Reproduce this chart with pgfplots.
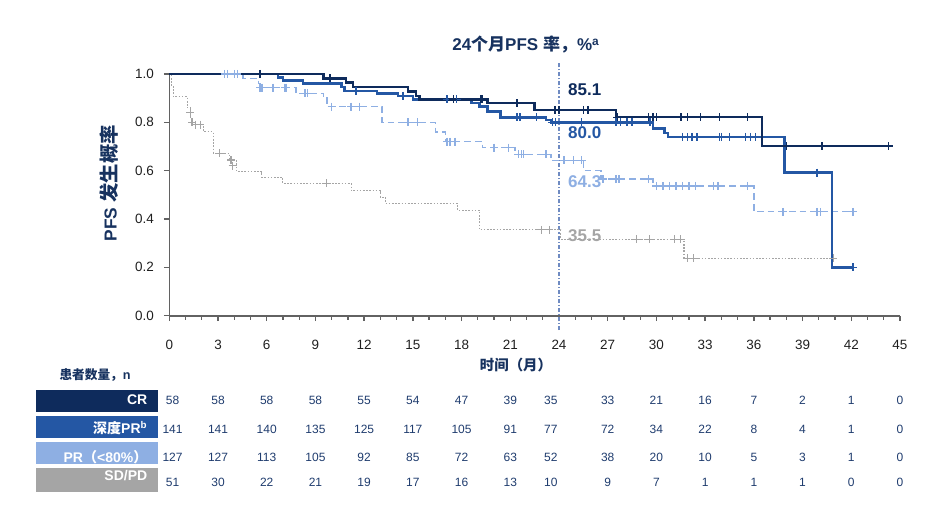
\documentclass[border=0pt]{standalone}
\usepackage{fontspec}
\setmainfont{Liberation Sans}
\newfontfamily\cjk{Noto Sans CJK SC}
\usepackage{pgfplots}
\usepackage{pgfplotstable}
\pgfplotsset{compat=1.18}
\definecolor{cCR}{HTML}{0E2B5C}
\definecolor{cDP}{HTML}{2457A4}
\definecolor{cPR}{HTML}{8EAFE3}
\definecolor{cSD}{HTML}{A5A5A5}
\definecolor{cTxt}{HTML}{17325F}
\definecolor{cNum}{HTML}{1F3C6E}
\definecolor{cAx}{HTML}{626262}
\definecolor{cVl}{HTML}{6F8BC2}
\pgfplotstableread{
x cr dp pr sd
0.2 58 141 127 51
3 58 141 127 30
6 58 140 113 22
9 58 135 105 21
12 55 125 92 19
15 54 117 85 17
18 47 105 72 16
21 39 91 63 13
23.5 35 77 52 10
27 33 72 38 9
30 21 34 20 7
33 16 22 10 1
36 7 8 5 1
39 2 4 3 1
42 1 1 1 0
45 0 0 0 0
}\risk
\begin{document}
\begin{tikzpicture}
\useasboundingbox (0,0) rectangle (706.5pt,384pt);
\begin{axis}[
  at={(126.975pt,147.225pt)}, anchor=south west,
  scale only axis, width=548pt, height=181.3pt,
  xmin=0, xmax=45, ymin=0, ymax=1,
  axis lines=left,
  axis line style={-, draw=cAx, line width=1.2pt},
  xtick={0,3,...,45}, minor x tick num=2,
  ytick={0,0.2,0.4,0.6,0.8,1},
  tick align=outside, major tick length=4pt, minor tick length=3pt,
  tick style={draw=cAx, line width=1pt},
  minor tick style={draw=cAx, line width=1pt},
  tick label style={font=\fontsize{10.1}{12}\selectfont, color=black!88},
  /pgf/number format/assume math mode=true,
  yticklabel style={xshift=-4pt, /pgf/number format/fixed, /pgf/number format/fixed zerofill, /pgf/number format/precision=1},
  xticklabel style={yshift=-11pt},
  clip=false,
]
% vertical reference line at 24 months
\addplot[draw=cVl, line width=0.9pt, dash pattern=on 3pt off 1.5pt on 0.8pt off 1.5pt, forget plot] coordinates {(24,-0.06) (24,1.045)};

% SD/PD
\addplot[const plot, draw=cSD, line width=0.8pt, dash pattern=on 1.2pt off 1.2pt] coordinates {
(0,1) (0.15,0.95) (0.25,0.906) (1.1,0.86) (1.3,0.82) (1.4,0.79) (2.1,0.761) (2.7,0.672) (3.7,0.644) (4.15,0.596) (5.7,0.573) (7.0,0.548) (11.2,0.517) (13.0,0.49) (13.3,0.465) (17.75,0.437) (19.1,0.355) (24.1,0.317) (31.7,0.237) (40.9,0.237)};
\addplot[only marks, mark=+, mark size=3pt, draw=cSD, mark options={line width=0.8pt}] coordinates {
(1.3,0.84) (1.4,0.80) (1.6,0.79) (1.9,0.79) (3.1,0.672) (3.8,0.644) (3.9,0.62) (9.7,0.548) (22.9,0.355) (23.4,0.355) (28.8,0.317) (29.6,0.317) (31.1,0.317) (31.5,0.317) (31.9,0.237) (32.3,0.237) (40.9,0.237)};

% PR < 80%
\addplot[const plot, draw=cPR, line width=1.1pt, dash pattern=on 5pt off 3pt] coordinates {
(0,1) (4.55,0.982) (5.5,0.96) (5.6,0.943) (7.8,0.92) (9.5,0.90) (9.7,0.865) (13.1,0.80) (16.4,0.76) (17.0,0.72) (19.3,0.695) (21.3,0.667) (23.5,0.643) (25.5,0.60) (26.6,0.565) (29.8,0.537) (36.0,0.43) (42.1,0.43)};
\addplot[only marks, mark=+, mark size=3pt, draw=cPR, mark options={line width=1.1pt}] coordinates {
(3.4,1) (3.6,1) (4.0,1) (4.2,1) (5.6,0.943) (5.7,0.943) (6.4,0.943) (7.1,0.943) (7.2,0.943) (8.35,0.92) (8.5,0.92) (10.0,0.865) (11.2,0.865) (11.7,0.865) (14.7,0.80) (15.3,0.80) (17.1,0.72) (17.3,0.72) (17.6,0.72) (20.0,0.695) (20.9,0.695) (21.5,0.667) (21.7,0.667) (21.8,0.667) (23.2,0.667) (24.3,0.643) (24.9,0.643) (25.4,0.643) (26.7,0.565) (27.5,0.565) (27.7,0.565) (29.5,0.565) (30.0,0.537) (30.4,0.537) (30.8,0.537) (31.2,0.537) (31.6,0.537) (32.0,0.537) (32.4,0.537) (33.5,0.537) (33.8,0.537) (35.6,0.537) (37.8,0.43) (39.9,0.43) (40.1,0.43) (42.1,0.43)};

% Deep PR
\addplot[const plot, draw=cDP, line width=1.8pt] coordinates {
(0,1) (6.7,0.986) (7.0,0.973) (8.25,0.96) (10.6,0.947) (10.8,0.93) (12.8,0.92) (14.1,0.91) (15.0,0.895) (18.6,0.88) (19.1,0.865) (19.6,0.844) (20.4,0.82) (23.2,0.81) (23.5,0.80) (29.8,0.775) (30.5,0.757) (30.7,0.74) (37.9,0.592) (40.8,0.20) (42.1,0.20)};
\addplot[only marks, mark=+, mark size=3pt, draw=cDP, mark options={line width=1.1pt}] coordinates {
(11.5,0.93) (14.4,0.91) (17.1,0.895) (17.7,0.895) (21.4,0.82) (21.6,0.82) (22.6,0.82) (23.6,0.80) (23.8,0.80) (25.4,0.80) (27.5,0.80) (27.8,0.80) (28.2,0.80) (28.5,0.80) (29.6,0.80) (31.6,0.74) (31.9,0.74) (32.2,0.74) (32.5,0.74) (33.9,0.74) (34.0,0.74) (34.5,0.74) (35.5,0.74) (35.8,0.74) (36.1,0.74) (39.9,0.592) (42.1,0.20)};

% CR
\addplot[const plot, draw=cCR, line width=1.8pt] coordinates {
(0,1) (9.5,0.982) (10.9,0.964) (11.3,0.947) (14.7,0.927) (15.2,0.909) (15.4,0.895) (19.6,0.879) (22.5,0.851) (27.5,0.821) (36.5,0.702) (44.3,0.702)};
\addplot[only marks, mark=+, mark size=3pt, draw=cCR, mark options={line width=1.1pt}] coordinates {
(5.6,1) (9.9,0.982) (17.5,0.895) (19.2,0.895) (19.3,0.895) (21.4,0.879) (23.75,0.851) (24.0,0.851) (25.5,0.851) (25.8,0.851) (27.6,0.821) (29.5,0.821) (29.8,0.821) (30.0,0.821) (31.5,0.821) (31.9,0.821) (32.7,0.821) (33.9,0.821) (35.6,0.821) (38.0,0.702) (40.2,0.702) (44.3,0.702)};

% risk table numbers
\pgfplotsset{risk/.style={draw=none, mark=none, nodes near coords, point meta=explicit symbolic,
  every node near coord/.style={anchor=center, inner sep=0pt, font=\fontsize{9}{10}\selectfont, text=cNum}}}
\addplot[risk] table[x=x, y expr=-0.3517, meta=cr] {\risk};
\addplot[risk] table[x=x, y expr=-0.4688, meta=dp] {\risk};
\addplot[risk] table[x=x, y expr=-0.5858, meta=pr] {\risk};
\addplot[risk] table[x=x, y expr=-0.691, meta=sd] {\risk};

% boxes
\fill[cCR] (axis cs:-8.208,-0.3074) rectangle (axis cs:-0.714,-0.3972);
\fill[cDP] (axis cs:-8.208,-0.415) rectangle (axis cs:-0.714,-0.5048);
\fill[cPR] (axis cs:-8.208,-0.5238) rectangle (axis cs:-0.714,-0.6136);
\fill[cSD] (axis cs:-8.208,-0.6289) rectangle (axis cs:-0.714,-0.7282);
\node[anchor=east, inner sep=0pt, text=white, font=\fontsize{10.5}{12}\selectfont\bfseries] at (axis cs:-1.34,-0.346) {CR};
\node[anchor=east, inner sep=0pt, text=white, font=\fontsize{10.5}{12}\selectfont\bfseries] at (axis cs:-1.34,-0.4646) {{\cjk 深度}PR\textsuperscript{b}};
\node[anchor=east, inner sep=0pt, text=white, font=\fontsize{10.5}{12}\selectfont\bfseries] at (axis cs:-1.34,-0.5834) {PR{\cjk （}<80\%{\cjk ）}};
\node[anchor=east, inner sep=0pt, text=white, font=\fontsize{10.5}{12}\selectfont\bfseries] at (axis cs:-1.34,-0.6632) {SD/PD};
\node[inner sep=0pt, text=cTxt, font=\fontsize{9.5}{11}\selectfont\bfseries] at (axis cs:-4.57,-0.245) {{\cjk 患者数量，}n};

% labels
\node[inner sep=0pt, text=cTxt, font=\fontsize{12.75}{15}\selectfont\bfseries] at (axis cs:21.96,1.12) {24{\cjk 个月}PFS {\cjk 率，}\%\textsuperscript{a}};
\node[inner sep=0pt, rotate=90, text=cTxt, font=\fontsize{13}{15}\selectfont\bfseries] at (axis cs:-3.7,0.548) {PFS {\cjk\fontsize{14.5}{16}\selectfont 发生概率}};
\node[inner sep=0pt, text=cTxt, font=\fontsize{10.8}{12}\selectfont\bfseries] at (axis cs:21.35,-0.204) {\cjk 时间（月）};
\node[anchor=west, inner sep=0pt, text=cCR, font=\fontsize{12.75}{15}\selectfont\bfseries] at (axis cs:24.55,0.934) {85.1};
\node[anchor=west, inner sep=0pt, text=cDP, font=\fontsize{12.75}{15}\selectfont\bfseries] at (axis cs:24.55,0.758) {80.0};
\node[anchor=west, inner sep=0pt, text=cPR, font=\fontsize{12.75}{15}\selectfont\bfseries] at (axis cs:24.55,0.555) {64.3};
\node[anchor=west, inner sep=0pt, text=cSD, font=\fontsize{12.75}{15}\selectfont\bfseries] at (axis cs:24.55,0.330) {35.5};
\end{axis}
\end{tikzpicture}
\end{document}
